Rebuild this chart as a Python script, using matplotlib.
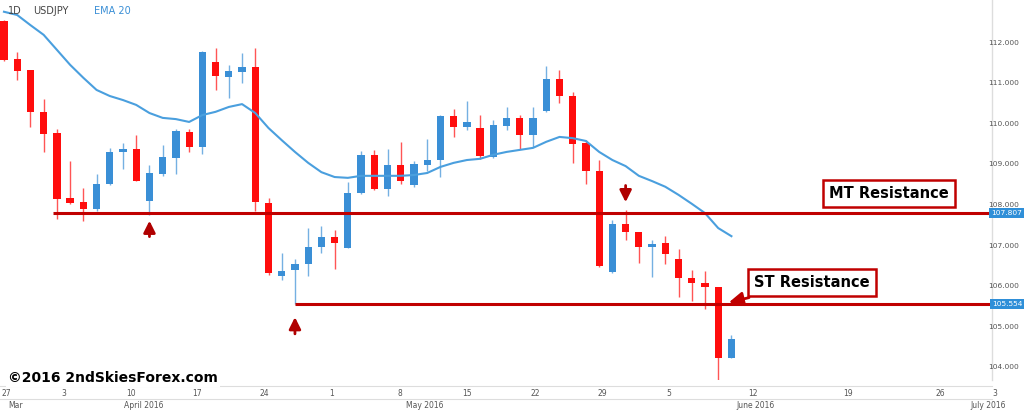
import matplotlib
matplotlib.use("Agg")
import matplotlib.pyplot as plt
import matplotlib.transforms as mtransforms

opens  = [112.54,111.60,111.33,110.30,109.78,108.17,108.07,107.90,108.52,109.31,109.38,108.10,108.77,109.16,109.80,109.43,111.53,111.16,111.28,111.41,
          108.05,106.25,106.40,106.54,106.96,107.21,106.94,108.30,109.24,108.40,108.99,108.49,108.99,109.11,110.20,109.93,109.90,109.19,109.95,110.15,
          109.73,110.32,111.11,110.69,109.53,108.84,106.35,107.53,107.33,106.96,107.06,106.67,106.20,106.07,105.98,104.22]
highs  = [112.57,111.78,111.33,110.62,109.88,109.09,108.42,108.77,109.41,109.53,109.73,108.99,109.48,109.88,109.88,111.80,111.88,111.46,111.75,111.88,
          108.17,106.81,106.67,107.43,107.48,107.38,108.57,109.33,109.36,109.38,109.56,109.09,109.63,110.22,110.37,110.57,110.22,110.10,110.42,110.22,
          110.42,111.43,111.33,110.79,109.60,109.11,107.63,107.88,107.33,107.14,107.23,106.91,106.40,106.37,105.98,104.79]
lows   = [111.56,111.09,109.93,109.31,107.65,108.03,107.61,107.85,108.49,108.89,108.59,107.75,108.72,108.77,109.31,109.26,110.84,110.64,111.01,107.85,
          106.27,106.15,105.56,106.25,106.81,106.42,106.94,108.27,108.37,108.22,108.52,108.44,108.84,108.69,109.68,109.85,109.14,109.16,109.85,109.38,
          109.43,110.30,110.52,109.04,108.52,106.47,106.32,107.14,106.57,106.22,106.54,105.73,105.63,105.43,103.53,104.22]
closes = [111.58,111.31,110.30,109.75,108.15,108.05,107.90,108.52,109.31,109.38,108.59,108.79,109.19,109.83,109.43,111.78,111.19,111.31,111.41,108.07,
          106.32,106.37,106.54,106.96,107.21,107.06,108.30,109.24,108.40,108.99,108.59,109.01,109.11,110.20,109.93,110.05,109.21,109.98,110.15,109.73,
          110.15,111.11,110.69,109.51,108.84,106.49,107.53,107.33,106.96,107.04,106.79,106.20,106.07,105.98,104.22,104.69]
ema20  = [112.77,112.69,112.44,112.20,111.83,111.46,111.14,110.84,110.69,110.59,110.47,110.27,110.15,110.12,110.05,110.22,110.30,110.42,110.49,110.27,
          109.90,109.60,109.31,109.04,108.81,108.69,108.67,108.72,108.72,108.72,108.72,108.74,108.79,108.94,109.04,109.11,109.14,109.24,109.31,109.36,
          109.41,109.56,109.68,109.65,109.58,109.31,109.11,108.96,108.72,108.59,108.45,108.25,108.03,107.80,107.43,107.23]
mt_level, st_level = 107.807, 105.554
mt_start, st_start = 4, 22
y_ticks = [104, 105, 106, 107, 108, 109, 110, 111, 112]
week_labels = ["27","3","10","17","24","1","8","15","22","29","5","12","19","26","3"]
week_pos = [0.2,4.5,9.6,14.6,19.7,24.8,29.9,35.0,40.2,45.2,50.3,56.6,63.8,70.8,74.9]
month_labels = ["Mar","April 2016","May 2016","June 2016","July 2016"]
month_pos = [0.3,10.6,31.8,56.8,74.4]

RED, BLUE = "#ff0d0d", "#3a8fd6"
fig = plt.figure(figsize=(10.24,4.13), dpi=100)
ax = fig.add_axes([0, 33/413, 992/1024, 380/413])
ax.set_xlim(-0.3, 74.7); ax.set_ylim(103.68, 113.06)
for i,(o,h,l,c) in enumerate(zip(opens,highs,lows,closes)):
    col = BLUE if c >= o else RED
    ax.vlines(i, l, h, color=col, lw=1.0, alpha=0.7)
    ax.bar(i, abs(c-o) or 0.03, bottom=min(o,c), width=0.55, color=col)
ax.plot(range(len(ema20)), ema20, color="#4a9fde", lw=1.5)
ax.hlines(mt_level, mt_start-0.3, 74.7, color="#c00000", lw=2.2)
ax.hlines(st_level, st_start, 74.7, color="#c00000", lw=2.2)
for s in ax.spines.values(): s.set_visible(False)
ax.set_xticks([]); ax.set_yticks([])
for v in y_ticks:
    fig.text(1019/1024, ax.transData.transform((0,v))[1]/413, f"{v:.3f}", fontsize=5.4, color="#555555",
             va="center", ha="right")
for v in (mt_level, st_level):
    yy = ax.transData.transform((0,v))[1]/413
    fig.text(1007/1024, yy, f"{v:.3f}", fontsize=5.4, color="white", va="center", ha="center",
             bbox=dict(boxstyle="square,pad=0.3", fc="#2f8fd8", ec="none"))
fig.add_artist(plt.Line2D([992/1024]*2, [33/413, 1], color="#dddddd", lw=1))
def arr(x, y0, y1):
    ax.annotate("", xy=(x, y1), xytext=(x, y0),
                arrowprops=dict(arrowstyle="-|>,head_width=0.35,head_length=0.7", color="#b00000", lw=2))
arr(11, 107.15, 107.68)
arr(22, 104.75, 105.3)
arr(47, 108.55, 108.0)
ax.text(66.9, 108.29, "MT Resistance", fontsize=10.5, fontweight="bold", ha="center", va="center",
        bbox=dict(boxstyle="square,pad=0.4", fc="white", ec="#c00000", lw=1.8))
ax.annotate("ST Resistance", xy=(54.6, 105.58), xytext=(61.1, 106.08), fontsize=10.5, fontweight="bold",
            ha="center", va="center",
            bbox=dict(boxstyle="square,pad=0.4", fc="white", ec="#c00000", lw=1.8),
            arrowprops=dict(arrowstyle="-|>,head_width=0.4,head_length=0.8", color="#c00000", lw=2))
ax.text(0.3, 112.8, "1D", fontsize=7, color="#444444", va="center")
ax.text(2.2, 112.8, "USDJPY", fontsize=7, color="#444444", va="center")
ax.text(6.8, 112.8, "EMA 20", fontsize=7, color=BLUE, va="center")
tr = mtransforms.blended_transform_factory(ax.transData, fig.transFigure)
fig.add_artist(plt.Line2D([0, 992/1024], [1-386/413]*2, color="#dddddd", lw=0.8))
fig.add_artist(plt.Line2D([0, 992/1024], [1-399/413]*2, color="#dddddd", lw=0.8))
for lab, p in zip(week_labels, week_pos):
    ax.text(p, 1-393/413, lab, transform=tr, fontsize=5.5, color="#555555", ha="center", va="center")
for lab, p in zip(month_labels, month_pos):
    ax.text(p, 1-406/413, lab, transform=tr, fontsize=5.5, color="#555555", ha="center" if lab!="Mar" else "left", va="center")
fig.text(8/1024, 1-378/413, "©2016 2ndSkiesForex.com", fontsize=10, fontweight="bold", va="center",
         bbox=dict(boxstyle="square,pad=0.15", fc="white", ec="none"))
fig.savefig("out.png", dpi=100)
